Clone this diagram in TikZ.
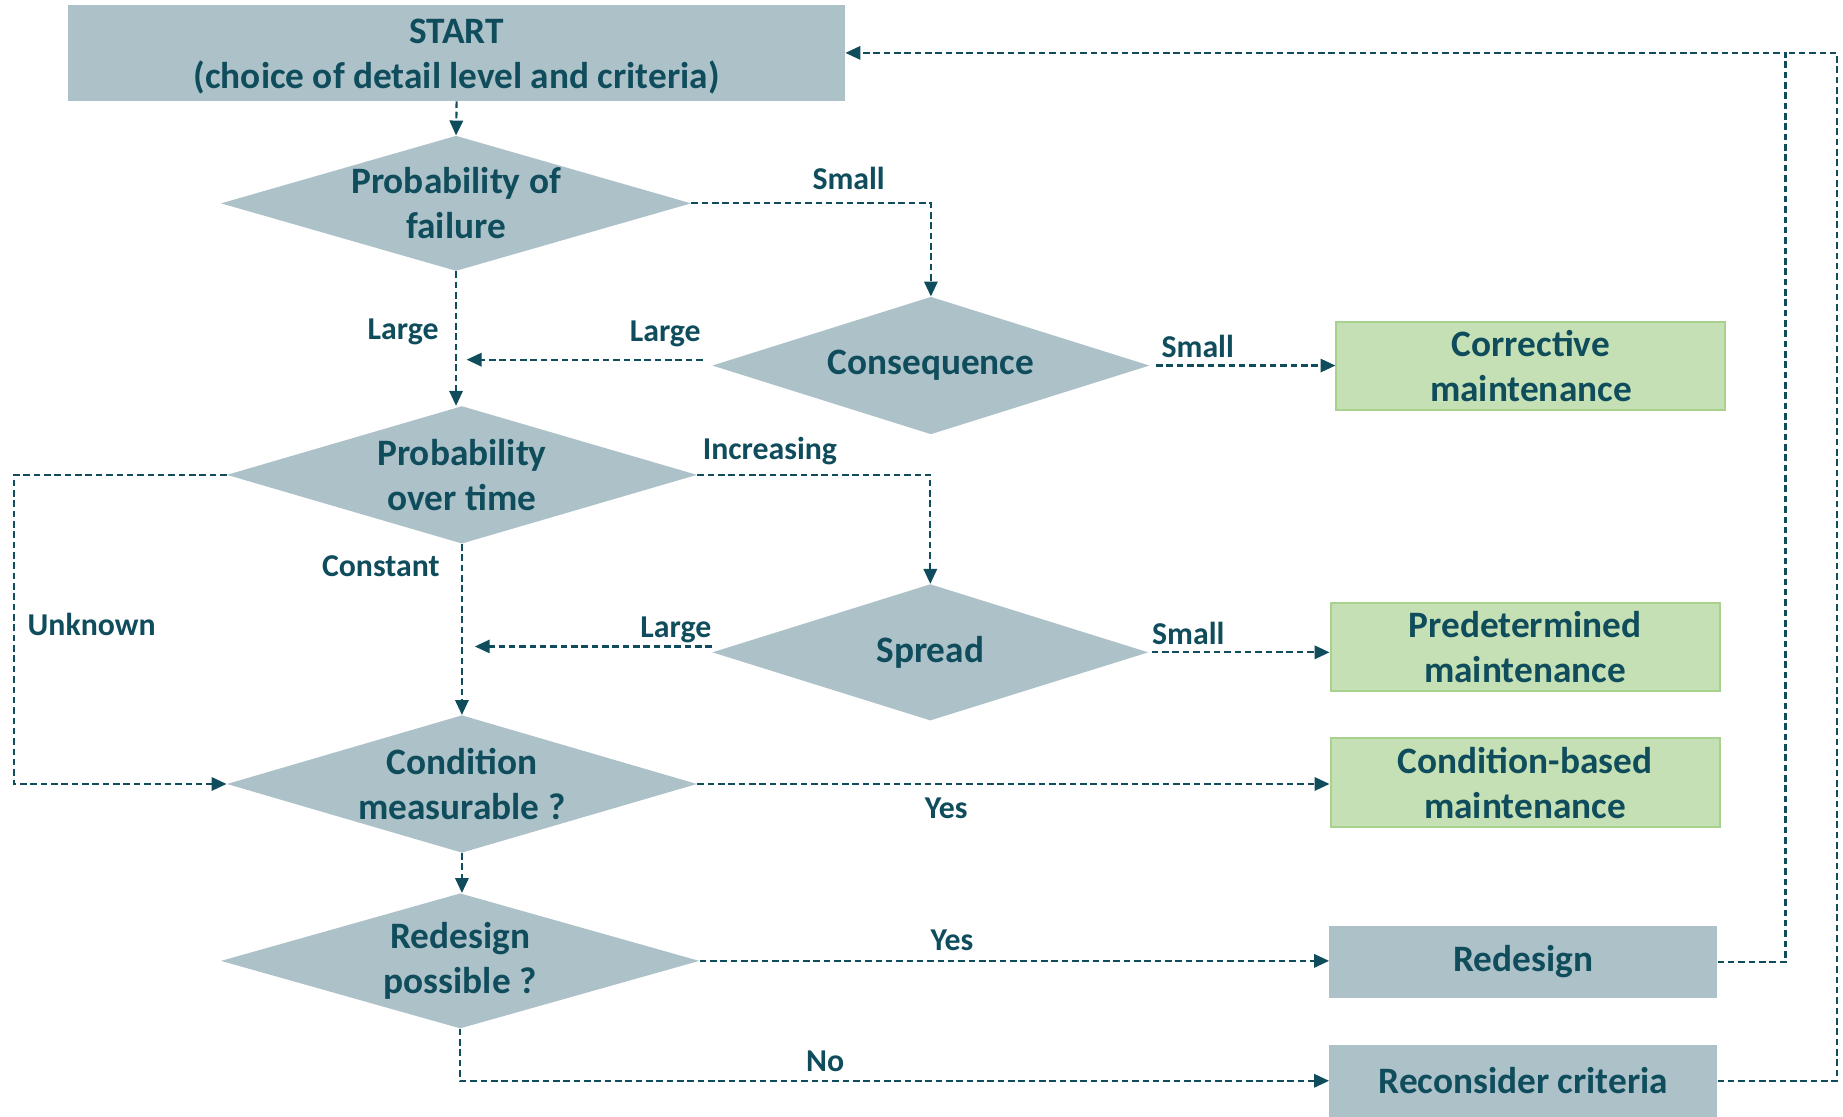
\documentclass[tikz,border=0pt]{standalone}
\usepackage{fontspec}
\setmainfont{Carlito}
\usetikzlibrary{shapes.geometric,arrows.meta}

\definecolor{ink}{HTML}{0F4C5C}
\definecolor{slate}{HTML}{ADC1C8}
\definecolor{leaf}{HTML}{C5E0B4}
\definecolor{leafline}{HTML}{A9D18E}

\tikzset{
  every node/.style={text=ink, font=\bfseries},
  maintext/.style={font=\fontsize{23.8}{28.5}\selectfont\bfseries, align=center},
  lbl/.style={font=\fontsize{20.3}{24}\selectfont\bfseries, inner sep=0pt},
  dia/.style={shape=diamond, fill=slate, draw=none, inner sep=0pt},
  greybox/.style={rectangle, fill=slate, draw=none, inner sep=0pt},
  greenbox/.style={rectangle, fill=leaf, draw=leafline, line width=1.3pt, inner sep=0pt},
  flow/.style={draw=ink, line width=1.4pt, dash pattern=on 4.2pt off 2.4pt,
               -{Triangle[length=9.5pt,width=8.5pt]}},
  plainflow/.style={draw=ink, line width=1.4pt, dash pattern=on 4.2pt off 2.4pt}
}

\begin{document}
\begin{tikzpicture}[x=0.75pt, y=-0.75pt]
\useasboundingbox (0,0) rectangle (1568,950);

% process boxes
\node[greybox, minimum width=495.75pt, minimum height=61.5pt] (start) at (388.5,45) {};
\node[maintext, yshift=-2.2pt] (startt) at (start) {START\\(choice of detail level and criteria)};

\node[greenbox, minimum width=248.25pt, minimum height=56.25pt] (corr) at (1302.5,311.5) {};
\node[maintext] (corrt) at (corr) {Corrective\\maintenance};

\node[greenbox, minimum width=248.25pt, minimum height=56.25pt] (pred) at (1297.5,550.5) {};
\node[maintext] (predt) at (pred) {Predetermined\\maintenance};

\node[greenbox, minimum width=248.25pt, minimum height=57pt] (cond) at (1297.5,666) {};
\node[maintext] (condt) at (cond) {Condition-based\\maintenance};

\node[greybox, minimum width=247.5pt, minimum height=45.75pt] (redesign) at (1296,818.5) {};
\node[maintext] (redesignt) at (redesign) {Redesign};

\node[greybox, minimum width=247.5pt, minimum height=45.75pt] (recon) at (1296,919.5) {};
\node[maintext] (recont) at (recon) {Reconsider criteria};

% decisions
\node[dia, minimum width=300pt, minimum height=86.25pt] (d1) at (388,173) {};
\node[maintext] (d1t) at (d1) {Probability of\\failure};

\node[dia, minimum width=279pt, minimum height=87.75pt] (cons) at (792,311) {};
\node[maintext] (const) at (cons) {Consequence};

\node[dia, minimum width=300pt, minimum height=87.75pt] (d2) at (393,404) {};
\node[maintext] (d2t) at (d2) {Probability\\over time};

\node[dia, minimum width=278.25pt, minimum height=87pt] (spread) at (791.5,555) {};
\node[maintext] (spreadt) at (spread) {Spread};

\node[dia, minimum width=300pt, minimum height=87.75pt] (d3) at (393,667) {};
\node[maintext] (d3t) at (d3) {Condition\\measurable ?};

\node[dia, minimum width=305.25pt, minimum height=86.25pt] (d4) at (391.5,817.5) {};
\node[maintext] (d4t) at (d4) {Redesign\\possible ?};

% free ends and bends
\coordinate (m1) at (397,306);
\coordinate (m2) at (404,550);
\coordinate (c1) at (1519,45);
\coordinate (c2) at (1563,45);
\coordinate (u1) at (12,404);

% connectors
\draw[flow] (start.south) -- (d1.north);
\draw[flow] (d1.east) -| (cons.north);
\draw[flow] (d1.south) -- (d1.south |- d2.north);
\draw[flow] ([xshift=-6pt,yshift=3.75pt]cons.west) -- (m1);
\draw[flow] ([xshift=4pt]cons.east) -- (cons.east -| corr.west);
\draw[flow] (d2.east) -| (spread.north);
\draw[flow] (d2.west) -- (u1) |- (d3.west);
\draw[flow] (d2.south) -- (d3.north);
\draw[flow] ([yshift=3.75pt]spread.west) -- (m2);
\draw[flow] ([xshift=2pt]spread.east) -- (spread.east -| pred.west);
\draw[flow] (d3.east) -- (d3.east -| cond.west);
\draw[flow] (d3.south) -- (d3.south |- d4.north);
\draw[flow] (d4.east) -- (d4.east -| redesign.west);
\draw[flow] (d4.south) |- (recon.west);
\draw[flow] (redesign.east) -| (c1) -- (start.east);
\draw[plainflow] (recon.east) -| (c2) -- (c1);

% branch labels
\node[lbl] (l1) at (722,152) {Small};
\node[lbl] (l2) at (343,282) {Large};
\node[lbl] (l3) at (566,284) {Large};
\node[lbl] (l4) at (1019,295) {Small};
\node[lbl] (l5) at (655,384) {Increasing};
\node[lbl] (l6) at (78,531) {Unknown};
\node[lbl] (l7) at (324,482) {Constant};
\node[lbl] (l8) at (575,536) {Large};
\node[lbl] (l9) at (1011,539) {Small};
\node[lbl] (l10) at (805,688) {Yes};
\node[lbl] (l11) at (810,800) {Yes};
\node[lbl] (l12) at (702,903) {No};
\end{tikzpicture}
\end{document}
